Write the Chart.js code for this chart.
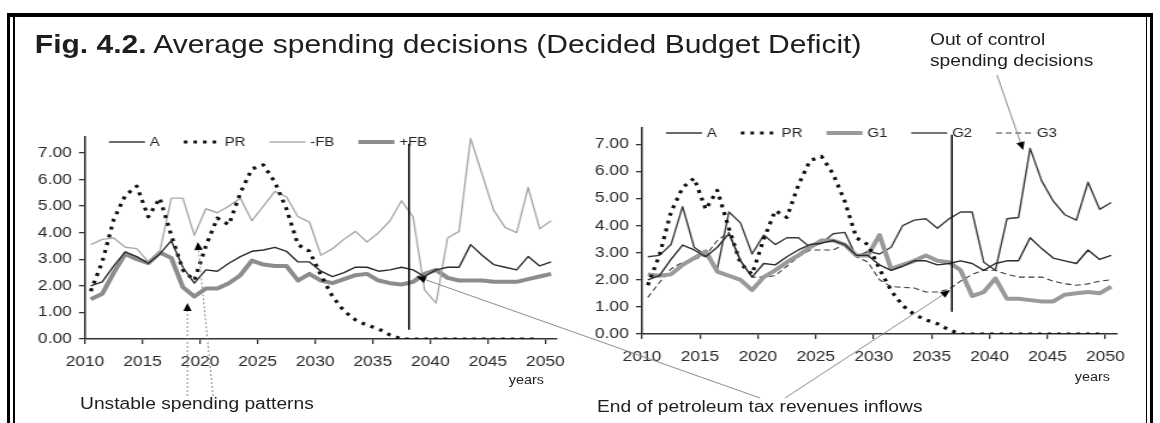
<!DOCTYPE html>
<html>
<head>
<meta charset="utf-8">
<title>Fig. 4.2 Average spending decisions</title>
<script src="https://cdn.jsdelivr.net/npm/chart.js@4.4.1/dist/chart.umd.min.js"></script>
<style>
  html, body { margin: 0; padding: 0; background: #fff; }
  body { width: 1160px; height: 423px; overflow: hidden; position: relative;
         font-family: "Liberation Sans", Arial, sans-serif; color: #1e1e1e; }
  .rule { position: absolute; background: #000; }
  /* the figure is laid out narrow and widened as a whole */
  #page { position: absolute; left: 0; top: 0; width: 966.67px; height: 423px;
          transform: scaleX(1.2); transform-origin: 0 0; }
  .txt { position: absolute; white-space: nowrap; }
  #page canvas { position: absolute; }
</style>
</head>
<body>
<div class="rule" style="left:7px;top:13px;width:3px;height:410px"></div>
<div class="rule" style="left:13px;top:13px;width:1.5px;height:410px"></div>
<div class="rule" style="left:7px;top:13px;width:1146px;height:4px"></div>
<div class="rule" style="left:1150px;top:13px;width:3px;height:410px"></div>
<div class="rule" style="left:1145.5px;top:13px;width:1.5px;height:410px"></div>

<div id="page">
  <div class="txt" style="left:29px;top:32px;font-size:25px;line-height:25px"><b>Fig. 4.2.</b> Average spending decisions (Decided Budget Deficit)</div>
  <div class="txt" style="left:775px;top:28.5px;font-size:16px;line-height:21px">Out of control<br>spending decisions</div>

  <canvas id="chartLeft" width="470" height="255" style="left:10px;top:120px"></canvas>
  <canvas id="chartRight" width="475" height="260" style="left:475px;top:110px"></canvas>
  <canvas id="notes" width="967" height="423" style="left:0;top:0;pointer-events:none"></canvas>

  <div class="txt" style="right:513.3px;top:373px;font-size:12px;line-height:14px">years</div>
  <div class="txt" style="right:41.7px;top:370px;font-size:12px;line-height:14px">years</div>
  <div class="txt" style="left:66.7px;top:393.5px;font-size:16px;line-height:20px">Unstable spending patterns</div>
  <div class="txt" style="left:497.5px;top:397px;font-size:16px;line-height:20px">End of petroleum tax revenues inflows</div>
</div>

<script>
// annual values, one entry per year
const years = [2010, 2011, 2012, 2013, 2014, 2015, 2016, 2017, 2018, 2019,
               2020, 2021, 2022, 2023, 2024, 2025, 2026, 2027, 2028, 2029,
               2030, 2031, 2032, 2033, 2034, 2035, 2036, 2037, 2038, 2039,
               2040, 2041, 2042, 2043, 2044, 2045, 2046, 2047, 2048, 2049, 2050];

const seriesA = [2.0, 2.15, 2.75, 3.28, 3.1, 2.85, 3.2, 3.7, 2.7, 2.1,
                 2.6, 2.55, 2.85, 3.1, 3.3, 3.35, 3.45, 3.3, 2.9, 2.9,
                 2.55, 2.35, 2.5, 2.7, 2.7, 2.55, 2.6, 2.7, 2.6, 2.35,
                 2.6, 2.7, 2.7, 3.55, 3.15, 2.8, 2.7, 2.6, 3.1, 2.75, 2.9];

const seriesPR = [1.8, 2.9, 4.5, 5.4, 5.75, 4.6, 5.3, 3.9, 2.6, 2.2,
                  3.5, 4.55, 4.3, 5.5, 6.4, 6.55, 5.9, 4.9, 3.55, 3.3,
                  2.4, 1.6, 1.05, 0.72, 0.52, 0.38, 0.15, 0, 0, 0,
                  0, 0, 0, 0, 0, 0, 0, 0, 0, 0, null];

const seriesFBminus = [3.55, 3.75, 3.8, 3.45, 3.4, 2.9, 3.3, 5.3, 5.3, 3.9,
                       4.9, 4.75, 5.0, 5.3, 4.45, 5.0, 5.55, 5.35, 4.6, 4.4,
                       3.15, 3.4, 3.75, 4.05, 3.65, 4.0, 4.45, 5.2, 4.6, 1.85,
                       1.35, 3.8, 4.05, 7.55, 6.2, 4.85, 4.2, 4.0, 5.7, 4.15, 4.45];

const seriesFBplus = [1.5, 1.7, 2.5, 3.2, 3.0, 2.85, 3.25, 3.05, 1.95, 1.6,
                      1.9, 1.9, 2.1, 2.4, 2.95, 2.8, 2.75, 2.75, 2.2, 2.45,
                      2.2, 2.1, 2.25, 2.4, 2.45, 2.2, 2.1, 2.05, 2.15, 2.45,
                      2.6, 2.3, 2.2, 2.2, 2.2, 2.15, 2.15, 2.15, 2.25, 2.35, 2.45];

const seriesG1 = [2.2, 2.15, 2.2, 2.55, 2.8, 3.05, 2.3, 2.15, 2.0, 1.62,
                  2.1, 2.35, 2.65, 2.9, 3.2, 3.45, 3.45, 3.3, 2.9, 2.9,
                  3.65, 2.4, 2.55, 2.7, 2.9, 2.7, 2.65, 2.35, 1.4, 1.55,
                  2.05, 1.3, 1.3, 1.25, 1.2, 1.2, 1.45, 1.5, 1.55, 1.5, 1.75];

const seriesG2 = [2.85, 2.9, 3.3, 4.7, 3.2, 2.9, 2.4, 4.5, 4.1, 2.95,
                  3.65, 3.3, 3.55, 3.55, 3.2, 3.35, 3.7, 3.75, 2.85, 3.05,
                  2.95, 3.2, 4.0, 4.2, 4.25, 3.9, 4.25, 4.5, 4.5, 2.65,
                  2.35, 4.25, 4.3, 6.85, 5.65, 4.9, 4.4, 4.2, 5.6, 4.6, 4.85];

const seriesG3 = [1.35, 1.9, 2.4, 2.65, 2.75, 2.9, 3.45, 3.75, 2.7, 2.1,
                  2.1, 2.15, 2.5, 2.85, 3.1, 3.1, 3.1, 3.3, 2.85, 2.65,
                  2.0, 1.75, 1.72, 1.7, 1.55, 1.55, 1.65, 1.95, 2.2, 2.35,
                  2.35, 2.2, 2.1, 2.1, 2.1, 1.95, 1.85, 1.8, 1.85, 1.95, 2.0];

const xTicks = [2010, 2015, 2020, 2025, 2030, 2035, 2040, 2045, 2050];
const yTicks = [0, 1, 2, 3, 4, 5, 6, 7];

Chart.defaults.font.family = '"Liberation Sans", Arial, sans-serif';
Chart.defaults.color = '#2a2a2a';

// yearly averages sit in the middle of their year
const toPoints = vals => years.map((yr, i) => ({ x: yr + 0.5, y: vals[i] }));

const line = (label, vals, color, width, dash) => ({
  label, data: toPoints(vals), borderColor: color, borderWidth: width,
  borderDash: dash || [], pointRadius: 0, tension: 0, fill: false,
  borderJoinStyle: 'round'
});

// legend drawn inside the plot, along its top edge
const inlineLegend = {
  id: 'inlineLegend',
  afterDraw(chart, args, opts) {
    const ctx = chart.ctx;
    const area = chart.chartArea;
    let x = area.left + opts.offset;
    const y = area.top + opts.dy;
    ctx.save();
    ctx.font = '12.5px "Liberation Sans", Arial, sans-serif';
    ctx.textBaseline = 'middle';
    chart.data.datasets.forEach(ds => {
      ctx.strokeStyle = ds.borderColor;
      ctx.lineWidth = ds.borderWidth;
      ctx.setLineDash(ds.borderDash);
      ctx.beginPath();
      ctx.moveTo(x, y);
      ctx.lineTo(x + opts.lineLen, y);
      ctx.stroke();
      ctx.setLineDash([]);
      ctx.fillStyle = '#222';
      ctx.fillText(ds.label, x + opts.lineLen + 4, y + 1);
      x += opts.lineLen + 4 + ctx.measureText(ds.label).width + opts.spacing;
    });
    ctx.restore();
  }
};

// vertical marker for the year petroleum revenue stops
const markerLine = {
  id: 'markerLine',
  afterDatasetsDraw(chart, args, opts) {
    const { x, y } = chart.scales;
    const px = x.getPixelForValue(opts.year);
    const ctx = chart.ctx;
    ctx.save();
    ctx.strokeStyle = '#111';
    ctx.lineWidth = 1.6;
    ctx.beginPath();
    ctx.moveTo(px, y.getPixelForValue(opts.from));
    ctx.lineTo(px, y.getPixelForValue(opts.to));
    ctx.stroke();
    ctx.restore();
  }
};

function makeChart(id, datasets, pad, yWidth, marker) {
  return new Chart(document.getElementById(id), {
    type: 'line',
    data: { datasets },
    plugins: [markerLine, inlineLegend],
    options: {
      responsive: false,
      animation: false,
      devicePixelRatio: 1,
      layout: { padding: { left: 0, right: pad.right, top: pad.top, bottom: 0 } },
      plugins: {
        legend: { display: false },
        tooltip: { enabled: false },
        inlineLegend: { offset: 20, dy: 5, lineLen: 30, spacing: 20 },
        markerLine: marker
      },
      scales: {
        x: {
          type: 'linear', min: 2010, max: 2051,
          afterBuildTicks: s => { s.ticks = xTicks.map(v => ({ value: v })); },
          afterFit: s => { s.height = 36; },
          ticks: { callback: v => String(v), font: { size: 14.5 }, padding: 9, maxRotation: 0 },
          grid: { drawOnChartArea: false, tickLength: 5, color: '#333', lineWidth: 1.3 },
          border: { color: '#333', width: 1.6 }
        },
        y: {
          min: 0, max: 7.6,
          afterBuildTicks: s => { s.ticks = yTicks.map(v => ({ value: v })); },
          afterFit: s => { s.width = yWidth; },
          ticks: { callback: v => v.toFixed(2), font: { size: 14.5 }, padding: 6 },
          grid: { drawOnChartArea: false, tickLength: 5, color: '#333', lineWidth: 1.3 },
          border: { color: '#333', width: 1.6 }
        }
      }
    }
  });
}

const prDash = [3, 5];

const chartLeft = makeChart('chartLeft', [
  line('A', seriesA, '#2b2b2b', 1.4),
  line('PR', seriesPR, '#111', 3.2, prDash),
  line('-FB', seriesFBminus, '#a9a9a9', 1.4),
  line('+FB', seriesFBplus, '#8c8c8c', 4)
], { right: 15.8, top: 17 }, 60.8, { year: 2038.15, from: 0.35, to: 7.35 });

const chartRight = makeChart('chartRight', [
  line('A', seriesA, '#2b2b2b', 1.4),
  line('PR', seriesPR, '#111', 3.2, prDash),
  line('G1', seriesG1, '#9a9a9a', 4),
  line('G2', seriesG2, '#3a3a3a', 1.4),
  line('G3', seriesG3, '#3a3a3a', 1.1, [5, 3])
], { right: 19.2, top: 18 }, 60, { year: 2036.75, from: 0.82, to: 7.35 });

// callout arrows from the notes to points on the plots
const notes = document.getElementById('notes').getContext('2d');

function pagePoint(chart, xv, yv) {
  const c = chart.canvas;
  return {
    x: c.offsetLeft + chart.scales.x.getPixelForValue(xv),
    y: c.offsetTop + chart.scales.y.getPixelForValue(yv)
  };
}

function arrow(fromX, fromY, tip, dash) {
  const ang = Math.atan2(tip.y - fromY, tip.x - fromX);
  const len = 8, half = 3.5;
  notes.save();
  notes.strokeStyle = '#8a8a8a';
  notes.lineWidth = 1;
  notes.setLineDash(dash || []);
  notes.beginPath();
  notes.moveTo(fromX, fromY);
  notes.lineTo(tip.x - Math.cos(ang) * len, tip.y - Math.sin(ang) * len);
  notes.stroke();
  notes.setLineDash([]);
  notes.fillStyle = '#000';
  notes.beginPath();
  notes.moveTo(tip.x, tip.y);
  notes.lineTo(tip.x - Math.cos(ang) * len - Math.sin(ang) * half,
               tip.y - Math.sin(ang) * len + Math.cos(ang) * half);
  notes.lineTo(tip.x - Math.cos(ang) * len + Math.sin(ang) * half,
               tip.y - Math.sin(ang) * len - Math.cos(ang) * half);
  notes.closePath();
  notes.fill();
  notes.restore();
}

const dipTip = pagePoint(chartLeft, 2018.9, 1.35);
arrow(dipTip.x, 396, dipTip, [2, 2]);
arrow(177.5, 396, pagePoint(chartLeft, 2019.8, 3.65), [2, 2]);
arrow(633.3, 398, pagePoint(chartLeft, 2038.8, 2.35));
arrow(654.2, 398, pagePoint(chartRight, 2036.6, 1.62));
arrow(830.8, 75, pagePoint(chartRight, 2042.9, 6.79));
</script>
</body>
</html>
